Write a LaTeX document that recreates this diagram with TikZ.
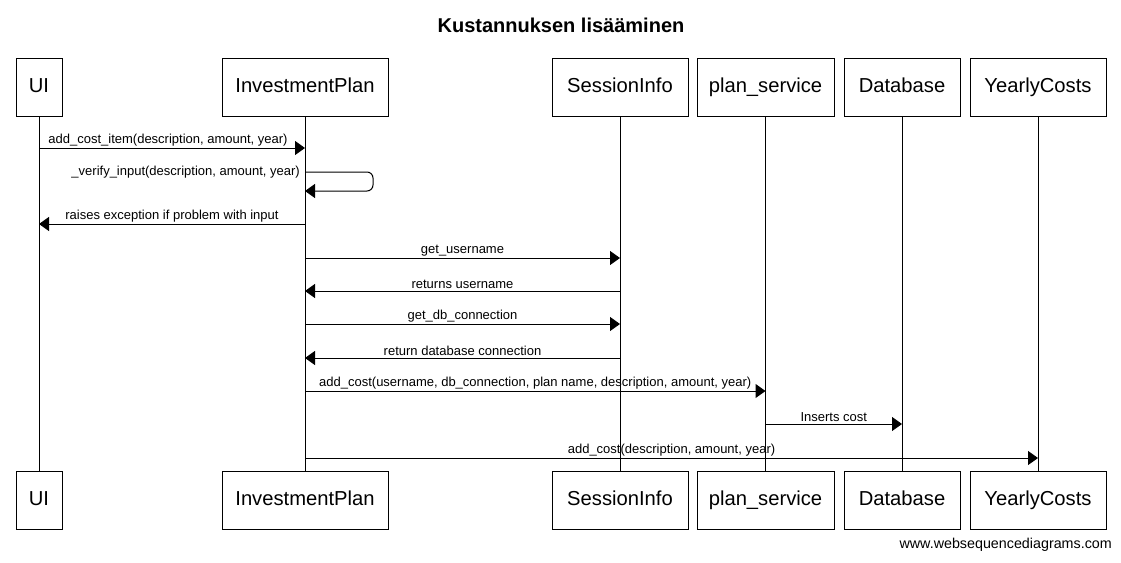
\documentclass[tikz,border=0pt]{standalone}
\usepackage{fontspec}
\setmainfont{Liberation Sans}
\usetikzlibrary{arrows.meta}
\begin{document}
\begin{tikzpicture}[x=1pt,y=-1pt,
  part/.style={draw,line width=1pt,minimum height=58pt,inner sep=0pt,text height=14.5pt,text depth=3pt,font=\fontsize{20.2}{24}\selectfont},
  life/.style={line width=1pt},
  msg/.style={line width=1pt,-{Triangle[length=10pt,width=14pt]}},
  lbl/.style={above,inner sep=1.5pt,font=\fontsize{13}{16}\selectfont}]
\useasboundingbox (0,0) rectangle (1121,562);
\node[font=\bfseries\fontsize{20}{24}\selectfont] (title) at (561,25) {Kustannuksen lisääminen};
% top participants
\node[part,minimum width=46pt]  (UIt) at (39,87) {UI};
\node[part,minimum width=166pt] (IPt) at (305,87) {InvestmentPlan};
\node[part,minimum width=136pt] (SIt) at (620,87) {SessionInfo};
\node[part,minimum width=137pt] (PSt) at (765.5,87) {plan\_service};
\node[part,minimum width=116pt] (DBt) at (902,87) {Database};
\node[part,minimum width=136pt] (YCt) at (1038,87) {YearlyCosts};
% bottom participants
\node[part,minimum width=46pt]  (UIb) at (39,500) {UI};
\node[part,minimum width=166pt] (IPb) at (305,500) {InvestmentPlan};
\node[part,minimum width=136pt] (SIb) at (620,500) {SessionInfo};
\node[part,minimum width=137pt] (PSb) at (765.5,500) {plan\_service};
\node[part,minimum width=116pt] (DBb) at (902,500) {Database};
\node[part,minimum width=136pt] (YCb) at (1038,500) {YearlyCosts};
% lifelines
\foreach \p in {UI,IP,SI,PS,DB,YC}{\draw[life] (\p t.south) -- (\p b.north);}
% messages
\draw[msg] (UIt.south |- 0,148) -- (IPt.south |- 0,148) node[lbl,midway,xshift=-4pt] {add\_cost\_item(description, amount, year)};
\draw[msg,rounded corners=6pt] (IPt.south |- 0,172) -- (373,172) -- (373,191) -- (IPt.south |- 0,191);
\node[font=\fontsize{13}{16}\selectfont,anchor=east,inner sep=0pt] (selflbl) at ([xshift=-5pt]IPt.south |- 0,172) {\_verify\_input(description, amount, year)};
\draw[msg] (IPt.south |- 0,224) -- (UIt.south |- 0,224) node[lbl,midway] {raises exception if problem with input};
\draw[msg] (IPt.south |- 0,258) -- (SIt.south |- 0,258) node[lbl,midway] {get\_username};
\draw[msg] (SIt.south |- 0,291) -- (IPt.south |- 0,291) node[lbl,midway] {returns username};
\draw[msg] (IPt.south |- 0,324) -- (SIt.south |- 0,324) node[lbl,midway] {get\_db\_connection};
\draw[msg] (SIt.south |- 0,358) -- (IPt.south |- 0,358) node[lbl,midway] {return database connection};
\draw[msg] (IPt.south |- 0,391) -- (PSt.south |- 0,391) node[lbl,midway] {add\_cost(username, db\_connection, plan name, description, amount, year)};
\draw[msg] (PSt.south |- 0,424) -- (DBt.south |- 0,424) node[lbl,midway] {Inserts cost};
\draw[msg] (IPt.south |- 0,458) -- (YCt.south |- 0,458) node[lbl,midway] {add\_cost(description, amount, year)};
\node[anchor=south east,inner sep=0pt,font=\fontsize{14.3}{16}\selectfont] (wm) at (1112,552) {www.websequencediagrams.com};
\end{tikzpicture}
\end{document}
